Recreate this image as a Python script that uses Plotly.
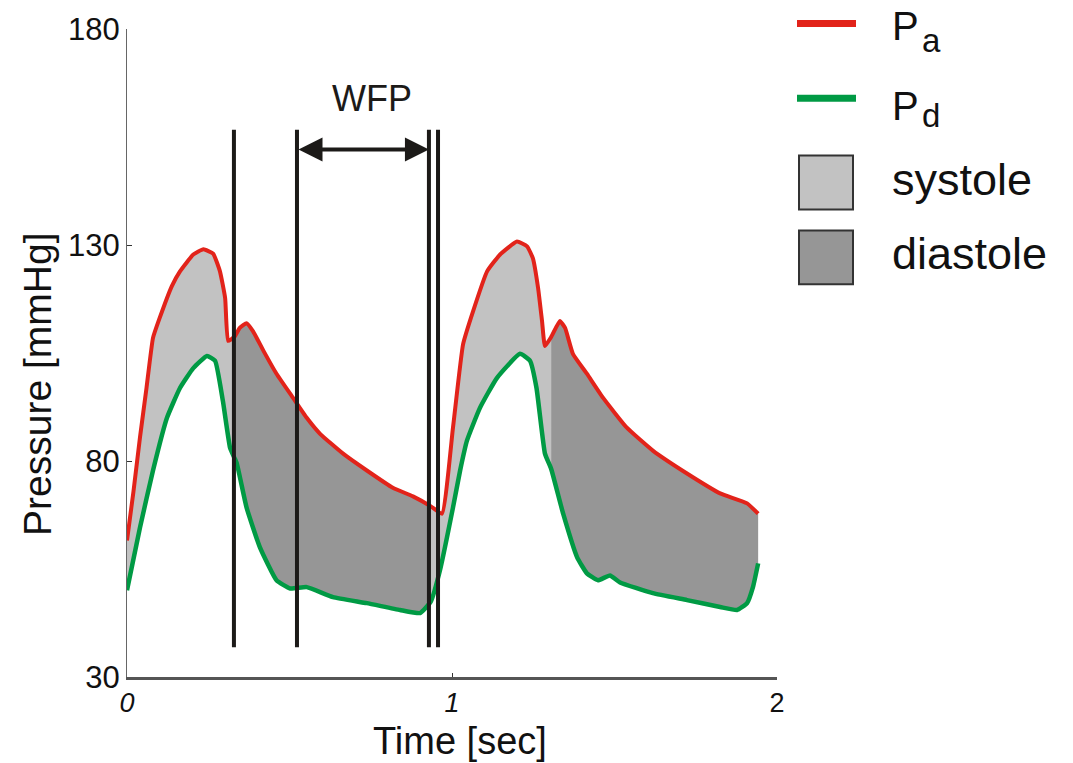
import plotly.graph_objects as go

# ---------------- data ----------------
t_pa = [0.000, 0.020, 0.040, 0.060, 0.080, 0.100, 0.138, 0.163, 0.204, 0.235, 0.265, 0.286,
        0.302, 0.311, 0.330, 0.347, 0.368, 0.388, 0.420, 0.460, 0.511, 0.553, 0.594, 0.665,
        0.738, 0.818, 0.880, 0.935, 0.969, 1.003, 1.034, 1.065, 1.108, 1.148, 1.200, 1.231,
        1.249, 1.265, 1.277, 1.286, 1.305, 1.332, 1.348, 1.372, 1.415, 1.465, 1.538, 1.618,
        1.723, 1.825, 1.908, 1.942]
p_a = [61.6, 73.0, 85.5, 96.9, 108.5, 113.0, 120.5, 123.9, 127.8, 129.0, 128.0, 123.9,
       117.7, 107.8, 108.7, 110.8, 111.9, 110.0, 105.5, 100.2, 94.6, 90.0, 86.3, 81.7,
       77.8, 73.8, 71.8, 69.5, 67.8, 87.7, 107.0, 114.7, 123.9, 127.8, 130.8, 129.7,
       126.9, 120.0, 112.4, 106.6, 108.7, 112.4, 110.8, 104.8, 100.2, 94.6, 87.7, 82.4,
       77.1, 72.5, 70.2, 67.8]

t_pd = [0.000, 0.040, 0.080, 0.123, 0.163, 0.204, 0.246, 0.271, 0.295, 0.317, 0.330, 0.338,
        0.368, 0.409, 0.460, 0.502, 0.553, 0.634, 0.738, 0.840, 0.902, 0.935, 0.963, 1.003,
        1.025, 1.046, 1.086, 1.138, 1.209, 1.240, 1.260, 1.286, 1.305, 1.342, 1.385, 1.415,
        1.449, 1.486, 1.517, 1.618, 1.723, 1.825, 1.877, 1.908, 1.926, 1.942]
p_d = [50.1, 64.6, 77.8, 90.0, 96.9, 101.5, 104.3, 103.2, 93.9, 83.1, 80.8, 79.4,
       69.2, 60.0, 52.4, 50.5, 50.8, 48.5, 47.1, 45.5, 44.8, 47.5, 54.7, 69.2,
       77.8, 84.7, 92.3, 99.2, 104.8, 103.2, 96.9, 81.7, 78.2, 67.8, 57.7, 54.0,
       52.4, 53.5, 51.9, 49.4, 47.8, 46.2, 45.5, 47.1, 50.8, 56.3]

# phase segments (start, end, phase)
phases = [(0.0, 0.330, "systole"), (0.330, 0.935, "diastole"),
          (0.935, 1.305, "systole"), (1.305, 1.942, "diastole")]

marker_times = [0.329, 0.523, 0.929, 0.957]
marker_range = [36.9, 156.7]
wfp_start, wfp_end, wfp_level = 0.523, 0.929, 152.1
wfp_label = "WFP"

x_ticks = [0, 1, 2]
x_ticktext = ["<i>0</i>", "<i>1</i>", "2"]
y_ticks = [30, 80, 130, 180]

# ---------------- styling ----------------
RED = "#e2231a"
GREEN = "#009a44"
LIGHT = "#c2c2c2"
DARK = "#969696"
FONT = "Liberation Sans, Arial, sans-serif"

W, H = 1073, 763
L, R, T, B = 127, 296, 27, 86
PW, PH = W - L - R, H - T - B


def px(x):
    return (x - L) / PW


def py(y):
    return (H - B - y) / PH


fig = go.Figure()

# fills
for a, b, ph in phases:
    xs = [t for t in t_pa if a <= t <= b]
    ys = [p for t, p in zip(t_pa, p_a) if a <= t <= b]
    xd = [t for t in t_pd if a <= t <= b]
    yd = [p for t, p in zip(t_pd, p_d) if a <= t <= b]
    fig.add_trace(go.Scatter(
        x=xs + xd[::-1], y=ys + yd[::-1], mode="lines", fill="toself",
        fillcolor=LIGHT if ph == "systole" else DARK,
        line=dict(width=0), hoverinfo="skip", showlegend=False))

fig.add_trace(go.Scatter(x=t_pa, y=p_a, mode="lines",
                         line=dict(color=RED, width=4, shape="spline", smoothing=0.4),
                         showlegend=False))
fig.add_trace(go.Scatter(x=t_pd, y=p_d, mode="lines",
                         line=dict(color=GREEN, width=4.5, shape="spline", smoothing=0.4),
                         showlegend=False))

vx, vy = [], []
for t in marker_times:
    vx += [t, t, None]
    vy += [marker_range[0], marker_range[1], None]
fig.add_trace(go.Scatter(x=vx, y=vy, mode="lines",
                         line=dict(color="#1c1a18", width=4), showlegend=False))

annotations = [
    dict(x=wfp_end, y=wfp_level, ax=wfp_start, ay=wfp_level, xref="x", yref="y",
         axref="x", ayref="y", text="", showarrow=True, arrowhead=2, startarrowhead=2,
         arrowside="end+start", arrowsize=1.2, startarrowsize=1.2, arrowwidth=4,
         arrowcolor="#1c1a18"),
    dict(x=0.753, y=163.9, xref="x", yref="y", text=wfp_label, showarrow=False,
         xanchor="center", yanchor="middle",
         font=dict(size=36, color="#1c1a18", family=FONT)),
    dict(x=px(460), y=py(741), xref="paper", yref="paper", text="Time [sec]",
         xanchor="center", yanchor="middle",
         showarrow=False, font=dict(size=38, color="#111", family=FONT)),
    dict(x=px(38), y=py(384), xref="paper", yref="paper", text="Pressure [mmHg]",
         xanchor="center", yanchor="middle",
         textangle=-90, showarrow=False, font=dict(size=39, color="#111", family=FONT)),
]

# legend (drawn manually)
shapes = [
    dict(type="line", xref="paper", yref="paper", x0=px(797), x1=px(856), y0=py(21.5), y1=py(21.5),
         line=dict(color=RED, width=7)),
    dict(type="line", xref="paper", yref="paper", x0=px(797), x1=px(856), y0=py(96.5), y1=py(96.5),
         line=dict(color=GREEN, width=7)),
    dict(type="rect", xref="paper", yref="paper", x0=px(799), x1=px(853), y0=py(154), y1=py(208),
         fillcolor=LIGHT, line=dict(color="#333", width=2)),
    dict(type="rect", xref="paper", yref="paper", x0=px(799), x1=px(853), y0=py(229), y1=py(283),
         fillcolor=DARK, line=dict(color="#333", width=2)),
]
leg_text = [("P", 905, 24, 40), ("a", 931, 39, 33), ("P", 905, 104, 40), ("d", 931, 114, 33),
            ("systole", 962, 178, 45), ("diastole", 969, 252, 45)]
for txt, x, y, s in leg_text:
    annotations.append(dict(x=px(x), y=py(y), xref="paper", yref="paper", text=txt,
                            xanchor="center", yanchor="middle",
                            showarrow=False, font=dict(size=s, color="#111", family=FONT)))

fig.update_layout(
    width=W, height=H, autosize=False,
    margin=dict(l=L, r=R, t=T, b=B),
    plot_bgcolor="white", paper_bgcolor="white",
    showlegend=False,
    shapes=shapes, annotations=annotations,
    xaxis=dict(range=[0, 2], tickvals=x_ticks, ticktext=x_ticktext, showgrid=False,
               zeroline=False, showline=True, linecolor="#555", linewidth=3,
               ticks="inside", ticklen=4, tickcolor="#333", tickwidth=1,
               ticklabelstandoff=0,
               tickfont=dict(size=27, color="#111", family=FONT)),
    yaxis=dict(range=[30, 180], tickvals=y_ticks, showgrid=False, zeroline=False,
               showline=True, linecolor="#666", linewidth=1, ticks="inside", ticklen=5,
               tickcolor="#333", tickfont=dict(size=31, color="#111", family=FONT)),
)

fig.write_html("out.html")
